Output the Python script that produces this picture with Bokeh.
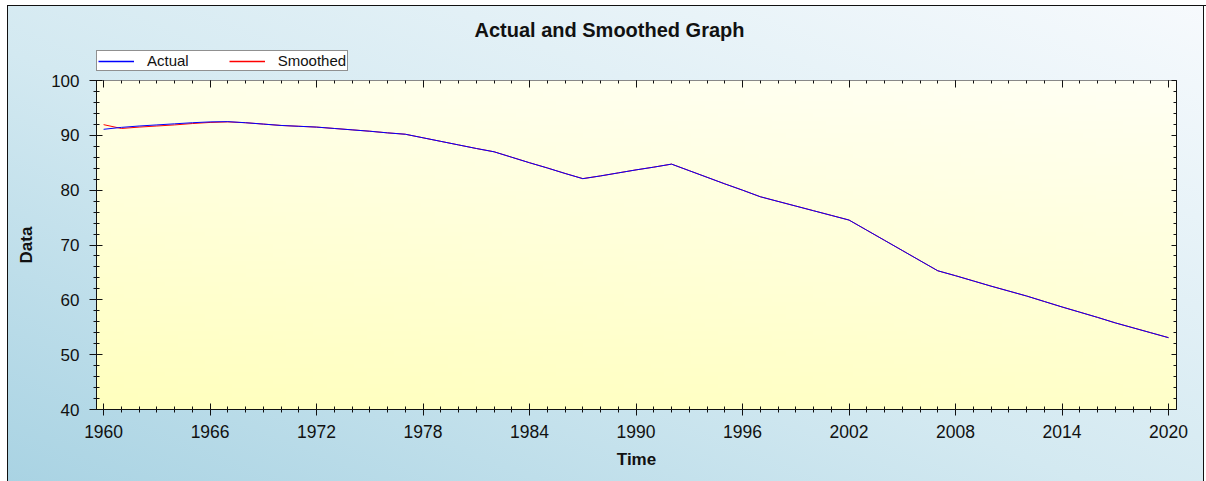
import numpy as np
from bokeh.plotting import figure
from bokeh.layouts import column
from bokeh.models import (Range1d, FixedTicker, LinearAxis, Legend, LegendItem, Label,
                          CustomJSTickFormatter)
from bokeh.embed import file_html
from bokeh.resources import INLINE

years = list(range(1960, 2021))
actual = [91.1, 91.45, 91.7, 91.9, 92.1, 92.3, 92.45,
          92.5, 92.3, 92.05,
          91.8, 91.65, 91.5, 91.25, 91.0, 90.75, 90.45,
          90.2, 89.55, 88.9,
          88.25, 87.6, 87.0, 86.0, 85.0, 84.05, 83.05,
          82.1, 82.6, 83.15,
          83.7, 84.2, 84.75, 83.55, 82.35, 81.15, 80.0,
          78.8, 77.95, 77.1,
          76.25, 75.4, 74.55, 72.7, 70.85, 69.0, 67.15,
          65.3, 64.4, 63.45,
          62.5, 61.6, 60.7, 59.7, 58.7, 57.75, 56.8,
          55.8, 54.9, 54.0,
          53.1]
smoothed = [91.95, 91.25, 91.5, 91.7, 91.9, 92.15, 92.35,
            92.45, 92.3, 92.05,
            91.8, 91.65, 91.5, 91.25, 91.0, 90.75, 90.45,
            90.2, 89.55, 88.9,
            88.25, 87.6, 87.0, 86.0, 85.0, 84.05, 83.05,
            82.1, 82.6, 83.15,
            83.7, 84.2, 84.75, 83.55, 82.35, 81.15, 80.0,
            78.8, 77.95, 77.1,
            76.25, 75.4, 74.55, 72.7, 70.85, 69.0, 67.15,
            65.3, 64.4, 63.45,
            62.5, 61.6, 60.7, 59.7, 58.7, 57.75, 56.8,
            55.8, 54.9, 54.0,
            53.1]
series_names = ["Actual", "Smoothed"]
series_colors = ["#0000ff", "#ff0000"]
title_text = "Actual and Smoothed Graph"
x_ticks = [1960, 1966, 1972, 1978, 1984, 1990, 1996, 2002, 2008, 2014, 2020]
x_minor = list(range(1960, 2021))
y_ticks = [40, 50, 60, 70, 80, 90, 100]
y_minor = list(range(40, 101, 2))

X0, X1 = 1959.6, 2020.45
Y0, Y1 = 40, 100
FONT = "Liberation Sans"
W = 1206
H = 481
LEFT, RIGHT = 96, 30
TOP_H = 71
MAIN_H = H - TOP_H

# ---------- header strip (title + legend) ----------
# its frame is aligned by the column with the main frame (x from LEFT to W-RIGHT),
# so the header's x range is given in page pixels
top = figure(width=W, height=TOP_H, output_backend="svg", toolbar_location=None,
             x_range=Range1d(LEFT, W - RIGHT), y_range=Range1d(0, TOP_H),
             x_axis_location=None, y_axis_location=None,
             min_border_left=LEFT, min_border_right=RIGHT, min_border_top=0, min_border_bottom=0)
top.grid.visible = False
top.outline_line_color = None
top.border_fill_alpha = 0
top.background_fill_alpha = 0

# legend proxies (their data fall outside the header's range, so only the legend shows them)
d_a = top.line(years, actual, line_color=series_colors[0], line_width=1.5)
d_s = top.line(years, smoothed, line_color=series_colors[1], line_width=1.5)
legend = Legend(items=[LegendItem(label=series_names[0], renderers=[d_a]),
                       LegendItem(label=series_names[1], renderers=[d_s])],
                orientation="horizontal", location=(0, 0),
                padding=1, margin=0, spacing=40, label_standoff=13,
                glyph_width=36, glyph_height=14, label_height=14,
                label_text_font=FONT, label_text_font_size="15px",
                label_text_color="#111111",
                border_line_color="#222222", border_line_width=1,
                background_fill_color="white", background_fill_alpha=1)
top.add_layout(legend, "center")
top.add_layout(Label(x=609, y=TOP_H - 29, text=title_text, text_font=FONT,
                     text_font_style="bold", text_font_size="20px",
                     text_align="center", text_baseline="middle", text_color="#111111"))

# ---------- main chart ----------
p = figure(width=W, height=MAIN_H, output_backend="svg", toolbar_location=None,
           x_range=Range1d(X0, X1), y_range=Range1d(Y0, Y1),
           x_axis_location=None, y_axis_location=None,
           min_border_left=LEFT, min_border_right=RIGHT, min_border_top=9, min_border_bottom=72)
p.grid.visible = False
p.outline_line_color = None
p.border_fill_alpha = 0
p.background_fill_color = "#ffffe0"

ny, nx = 80, 80
img = np.zeros((ny, nx), dtype=np.uint32)
view = img.view(dtype=np.uint8).reshape((ny, nx, 4))
for j in range(ny):
    for i in range(nx):
        t = 0.8 * (j / (ny - 1)) + 0.2 * (i / (nx - 1))
        view[j, i, 0] = 255
        view[j, i, 1] = 255
        view[j, i, 2] = int(0xbe + (0xf4 - 0xbe) * t)
        view[j, i, 3] = 255
p.image_rgba(image=[img], x=X0, y=Y0, dw=X1 - X0, dh=Y1 - Y0, level="image")

blank = CustomJSTickFormatter(code="return ''")

def style_axis(ax, labels=True):
    ax.axis_line_color = "#111111"
    ax.major_tick_line_color = "#111111"
    ax.minor_tick_line_color = "#111111"
    ax.major_label_text_font = FONT
    ax.major_label_text_color = "#111111"
    ax.axis_label_text_font = FONT
    ax.axis_label_text_font_style = "bold"
    ax.axis_label_text_color = "#111111"
    if not labels:
        ax.formatter = blank
        ax.major_label_text_font_size = "1px"
        ax.major_label_standoff = 0

xb = LinearAxis(ticker=FixedTicker(ticks=x_ticks, minor_ticks=x_minor), axis_label="Time")
style_axis(xb)
xb.major_label_text_font_size = "17.5px"
xb.axis_label_text_font_size = "17px"
xb.major_tick_in, xb.major_tick_out = 6, 6
xb.minor_tick_in, xb.minor_tick_out = 3, 3
xb.major_label_standoff = 9
xb.axis_label_standoff = 9
p.add_layout(xb, "below")

yl = LinearAxis(ticker=FixedTicker(ticks=y_ticks, minor_ticks=y_minor), axis_label="Data")
style_axis(yl)
yl.major_label_text_font_size = "17px"
yl.axis_label_text_font_size = "17px"
yl.major_tick_in, yl.major_tick_out = 6, 7
yl.minor_tick_in, yl.minor_tick_out = 3, 3
yl.major_label_standoff = 10
yl.axis_label_standoff = 12
p.add_layout(yl, "left")

xt = LinearAxis(ticker=FixedTicker(ticks=x_ticks, minor_ticks=x_minor))
style_axis(xt, labels=False)
xt.axis_line_color = "#888888"
xt.major_tick_in, xt.major_tick_out = 7, 0
xt.minor_tick_in, xt.minor_tick_out = 3, 0
p.add_layout(xt, "above")

yr = LinearAxis(ticker=FixedTicker(ticks=y_ticks, minor_ticks=y_minor))
style_axis(yr, labels=False)
yr.major_tick_in, yr.major_tick_out = 5, 0
yr.minor_tick_in, yr.minor_tick_out = 3, 0
p.add_layout(yr, "right")

p.line(years, smoothed, line_color=series_colors[1], line_width=1)
p.line(years, actual, line_color=series_colors[0], line_width=1)

layout = column(top, p, spacing=0)
layout.styles = {
    "background": "linear-gradient(to top right, #a9d3e3 0%, #d3e9f1 45%, #f7fafd 100%)",
    "box-shadow": ("inset 7px 5px 0 0 #ffffff, inset 8px 6px 0 0 #111111, "
                   "inset -2px 0 0 0 #ffffff, inset -3px 0 0 0 #111111"),
}

open("out.html", "w").write(file_html(layout, INLINE))
